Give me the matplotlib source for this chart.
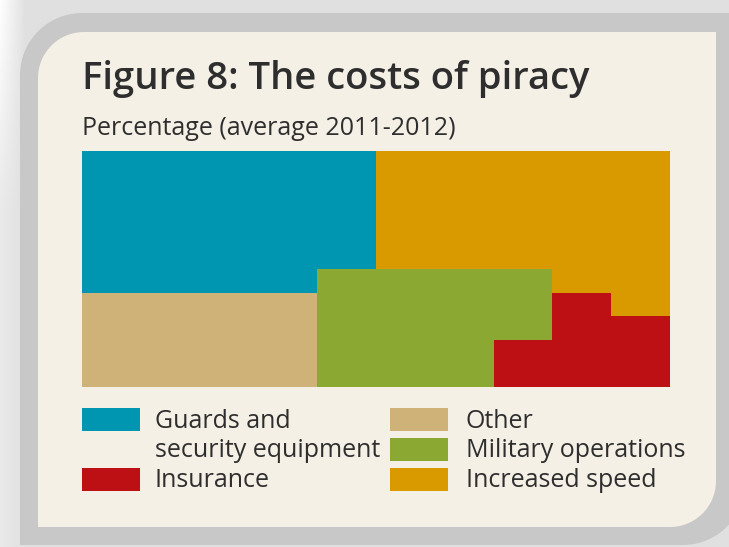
import numpy as np
import matplotlib
matplotlib.use("Agg")
import matplotlib.pyplot as plt
from matplotlib.patches import Polygon, Rectangle

# cells (1 cell = 1 %) per column of the 10x10 grid, for each cost item
columns = np.arange(10)
guards = [6, 6, 6, 6, 5, 0, 0, 0, 0, 0]
speed = [0, 0, 0, 0, 0, 5, 5, 5, 6, 7]
military = [0, 0, 0, 0, 5, 5, 5, 3, 0, 0]
other = [4, 4, 4, 4, 0, 0, 0, 0, 0, 0]
insurance = [0, 0, 0, 0, 0, 0, 0, 2, 4, 3]

labels = ["Guards and\nsecurity equipment", "Insurance", "Other",
          "Military operations", "Increased speed"]
colors = {"guards": "#0096B2", "speed": "#D99A00", "military": "#8BA832",
          "other": "#CEB277", "insurance": "#BD1015"}

W, H = 729, 547
fig = plt.figure(figsize=(W / 100, H / 100), dpi=100)

# background panel drawn in pixel coordinates
bg = fig.add_axes([0, 0, 1, 1])
bg.set_xlim(0, W)
bg.set_ylim(H, 0)
bg.axis("off")

yy, xx = np.mgrid[0:H, 0:W]
shade = 0.88 + 0.12 * np.clip(1 - xx / 25.0, 0, 1) * np.clip(1 - yy / 300.0, 0.3, 1)
bg.imshow(np.dstack([shade] * 3), extent=(0, W, H, 0), zorder=0)


def rounded(x0, y0, x1, y1, r):
    # rectangle with rounded top-left and bottom-right corners
    pts = []
    t = np.linspace(np.pi, 1.5 * np.pi, 20)
    pts += list(zip(x0 + r + r * np.cos(t), y0 + r + r * np.sin(t)))
    pts += [(x1, y0)]
    t = np.linspace(0, 0.5 * np.pi, 20)
    pts += list(zip(x1 - r + r * np.cos(t), y1 - r + r * np.sin(t)))
    pts += [(x0, y1)]
    return pts


bg.add_patch(Polygon(rounded(20, 13, 745, 545, 62), closed=True,
                     facecolor="#C8C8C8", edgecolor="none", zorder=1))
bg.add_patch(Polygon(rounded(38, 32, 716, 527, 46), closed=True,
                     facecolor="#F5F0E6", edgecolor="none", zorder=2))

font = ["Open Sans", "DejaVu Sans"]
ink = "#2E2E2E"
bg.text(82, 89, "Figure 8: The costs of piracy", family=font, weight="semibold",
        fontsize=27.5, color=ink, va="baseline", ha="left", zorder=3)
bg.text(82, 135, "Percentage (average 2011-2012)", family=font,
        fontsize=18, color=ink, va="baseline", ha="left", zorder=3)

# legend swatches and labels (swatch x, swatch centre, text x, label)
legend = [(82, 419.5, 155, colors["guards"], labels[0]),
          (82, 479, 155, colors["insurance"], labels[1]),
          (390, 419.5, 466, colors["other"], labels[2]),
          (390, 449, 466, colors["military"], labels[3]),
          (390, 479, 466, colors["speed"], labels[4])]
for x, yc, tx, c, lab in legend:
    bg.add_patch(Rectangle((x, yc - 11.5), 58, 23, facecolor=c,
                           edgecolor="none", zorder=3))
    for i, line in enumerate(lab.split("\n")):
        bg.text(tx, yc + 8 + 29.5 * i, line, family=font, fontsize=18,
                color=ink, va="baseline", ha="left", zorder=3)

# waffle grid as stacked columns
ax = fig.add_axes([82 / W, 1 - 387 / H, 588 / W, 236 / H])
ax.set_xlim(-0.5, 9.5)
ax.set_ylim(0, 10)
ax.axis("off")
bottom = np.zeros(10)
for key, vals in [("insurance", insurance), ("other", other),
                  ("military", military), ("speed", speed),
                  ("guards", guards)]:
    ax.bar(columns, vals, width=1.0, bottom=bottom, color=colors[key],
           linewidth=0)
    bottom += np.array(vals)

fig.savefig("out.png", dpi=100)
